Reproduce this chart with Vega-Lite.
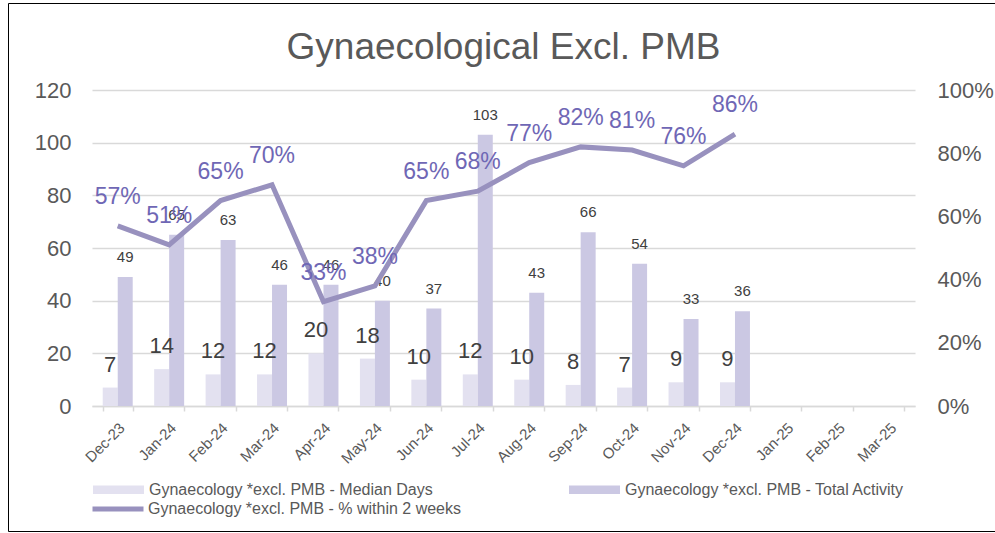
{
  "$schema": "https://vega.github.io/schema/vega-lite/v6.json",
  "width": 823,
  "height": 316,
  "autosize": "none",
  "padding": {"left": 92, "top": 90, "right": 80, "bottom": 127},
  "background": "white",
  "title": {
    "text": "Gynaecological Excl. PMB",
    "font": "Liberation Sans",
    "fontSize": 37,
    "fontWeight": "normal",
    "color": "#595959",
    "anchor": "middle",
    "baseline": "alphabetic",
    "offset": -93
  },
  "datasets": {
    "bars": [
      {"month": "Dec-23", "series": "Gynaecology *excl. PMB - Median Days", "value": 7},
      {"month": "Dec-23", "series": "Gynaecology *excl. PMB - Total Activity", "value": 49},
      {"month": "Jan-24", "series": "Gynaecology *excl. PMB - Median Days", "value": 14},
      {"month": "Jan-24", "series": "Gynaecology *excl. PMB - Total Activity", "value": 65},
      {"month": "Feb-24", "series": "Gynaecology *excl. PMB - Median Days", "value": 12},
      {"month": "Feb-24", "series": "Gynaecology *excl. PMB - Total Activity", "value": 63},
      {"month": "Mar-24", "series": "Gynaecology *excl. PMB - Median Days", "value": 12},
      {"month": "Mar-24", "series": "Gynaecology *excl. PMB - Total Activity", "value": 46},
      {"month": "Apr-24", "series": "Gynaecology *excl. PMB - Median Days", "value": 20},
      {"month": "Apr-24", "series": "Gynaecology *excl. PMB - Total Activity", "value": 46},
      {"month": "May-24", "series": "Gynaecology *excl. PMB - Median Days", "value": 18},
      {"month": "May-24", "series": "Gynaecology *excl. PMB - Total Activity", "value": 40},
      {"month": "Jun-24", "series": "Gynaecology *excl. PMB - Median Days", "value": 10},
      {"month": "Jun-24", "series": "Gynaecology *excl. PMB - Total Activity", "value": 37},
      {"month": "Jul-24", "series": "Gynaecology *excl. PMB - Median Days", "value": 12},
      {"month": "Jul-24", "series": "Gynaecology *excl. PMB - Total Activity", "value": 103},
      {"month": "Aug-24", "series": "Gynaecology *excl. PMB - Median Days", "value": 10},
      {"month": "Aug-24", "series": "Gynaecology *excl. PMB - Total Activity", "value": 43},
      {"month": "Sep-24", "series": "Gynaecology *excl. PMB - Median Days", "value": 8},
      {"month": "Sep-24", "series": "Gynaecology *excl. PMB - Total Activity", "value": 66},
      {"month": "Oct-24", "series": "Gynaecology *excl. PMB - Median Days", "value": 7},
      {"month": "Oct-24", "series": "Gynaecology *excl. PMB - Total Activity", "value": 54},
      {"month": "Nov-24", "series": "Gynaecology *excl. PMB - Median Days", "value": 9},
      {"month": "Nov-24", "series": "Gynaecology *excl. PMB - Total Activity", "value": 33},
      {"month": "Dec-24", "series": "Gynaecology *excl. PMB - Median Days", "value": 9},
      {"month": "Dec-24", "series": "Gynaecology *excl. PMB - Total Activity", "value": 36}
    ],
    "pct": [
      {"month": "Dec-23", "series": "Gynaecology *excl. PMB - % within 2 weeks", "pct": 0.57},
      {"month": "Jan-24", "series": "Gynaecology *excl. PMB - % within 2 weeks", "pct": 0.51},
      {"month": "Feb-24", "series": "Gynaecology *excl. PMB - % within 2 weeks", "pct": 0.65},
      {"month": "Mar-24", "series": "Gynaecology *excl. PMB - % within 2 weeks", "pct": 0.70},
      {"month": "Apr-24", "series": "Gynaecology *excl. PMB - % within 2 weeks", "pct": 0.33},
      {"month": "May-24", "series": "Gynaecology *excl. PMB - % within 2 weeks", "pct": 0.38},
      {"month": "Jun-24", "series": "Gynaecology *excl. PMB - % within 2 weeks", "pct": 0.65},
      {"month": "Jul-24", "series": "Gynaecology *excl. PMB - % within 2 weeks", "pct": 0.68},
      {"month": "Aug-24", "series": "Gynaecology *excl. PMB - % within 2 weeks", "pct": 0.77},
      {"month": "Sep-24", "series": "Gynaecology *excl. PMB - % within 2 weeks", "pct": 0.82},
      {"month": "Oct-24", "series": "Gynaecology *excl. PMB - % within 2 weeks", "pct": 0.81},
      {"month": "Nov-24", "series": "Gynaecology *excl. PMB - % within 2 weeks", "pct": 0.76},
      {"month": "Dec-24", "series": "Gynaecology *excl. PMB - % within 2 weeks", "pct": 0.86}
    ]
  },
  "encoding": {
    "x": {
      "field": "month",
      "type": "nominal",
      "scale": {
        "domain": ["Dec-23", "Jan-24", "Feb-24", "Mar-24", "Apr-24", "May-24", "Jun-24", "Jul-24", "Aug-24", "Sep-24", "Oct-24", "Nov-24", "Dec-24", "Jan-25", "Feb-25", "Mar-25"],
        "paddingInner": 0.417,
        "paddingOuter": 0.2085
      },
      "axis": {
        "title": null,
        "labelAngle": -45,
        "labelAlign": "right",
        "labelBaseline": "middle",
        "labelFont": "Liberation Sans",
        "labelFontSize": 15,
        "labelColor": "#595959",
        "labelPadding": 14,
        "labelOffset": 4,
        "domainColor": "#D9D9D9",
        "domainWidth": 1.5,
        "tickColor": "#D9D9D9",
        "tickWidth": 1.5,
        "tickSize": 5,
        "tickBand": "extent",
        "grid": false
      }
    }
  },
  "layer": [
    {
      "data": {"name": "bars"},
      "encoding": {
        "xOffset": {
          "field": "series",
          "type": "nominal",
          "scale": {"domain": ["Gynaecology *excl. PMB - Median Days", "Gynaecology *excl. PMB - Total Activity"], "paddingInner": 0, "paddingOuter": 0}
        },
        "y": {
          "field": "value",
          "type": "quantitative",
          "scale": {"domain": [0, 120], "nice": false},
          "axis": {
            "title": null,
            "orient": "left",
            "values": [0, 20, 40, 60, 80, 100, 120],
            "labelFont": "Liberation Sans",
            "labelFontSize": 22,
            "labelColor": "#595959",
            "labelPadding": 21,
            "ticks": false,
            "domain": false,
            "grid": true,
            "gridColor": "#D9D9D9",
            "gridWidth": 1.5
          }
        }
      },
      "layer": [
        {
          "mark": {"type": "bar"},
          "encoding": {
            "fill": {
              "field": "series",
              "type": "nominal",
              "scale": {
                "domain": ["Gynaecology *excl. PMB - Median Days", "Gynaecology *excl. PMB - Total Activity"],
                "range": ["#E3E1F0", "#CBC8E3"]
              },
              "legend": {
                "title": null,
                "orient": "none",
                "legendX": 1,
                "legendY": 374,
                "direction": "horizontal",
                "columns": 2,
                "columnPadding": 136,
                "padding": 0,
                "symbolType": "M-1,-0.17H1V0.17H-1Z",
                "symbolSize": 2601,
                "symbolStrokeWidth": 0,
                "labelFont": "Liberation Sans",
                "labelFontSize": 16,
                "labelColor": "#595959",
                "labelOffset": 5,
                "labelLimit": 400
              }
            }
          }
        },
        {
          "transform": [{"filter": "datum.series === 'Gynaecology *excl. PMB - Median Days'"}],
          "mark": {"type": "text", "font": "Liberation Sans", "fontSize": 22, "color": "#404040", "baseline": "alphabetic", "dy": -16},
          "encoding": {"text": {"field": "value", "type": "quantitative"}}
        },
        {
          "transform": [{"filter": "datum.series === 'Gynaecology *excl. PMB - Total Activity'"}],
          "mark": {"type": "text", "font": "Liberation Sans", "fontSize": 15, "color": "#404040", "baseline": "alphabetic", "dy": -15},
          "encoding": {"text": {"field": "value", "type": "quantitative"}}
        }
      ]
    },
    {
      "data": {"name": "pct"},
      "encoding": {
        "y": {
          "field": "pct",
          "type": "quantitative",
          "scale": {"domain": [0, 1], "nice": false},
          "axis": {
            "title": null,
            "orient": "right",
            "values": [0, 0.2, 0.4, 0.6, 0.8, 1],
            "format": ".0%",
            "labelFont": "Liberation Sans",
            "labelFontSize": 22,
            "labelColor": "#595959",
            "labelPadding": 22,
            "ticks": false,
            "domain": false,
            "grid": false
          }
        }
      },
      "layer": [
        {
          "mark": {"type": "line", "strokeWidth": 5, "strokeJoin": "miter", "strokeCap": "butt"},
          "encoding": {
            "stroke": {
              "field": "series",
              "type": "nominal",
              "scale": {"range": ["#9891BE"]},
              "legend": {
                "title": null,
                "orient": "none",
                "legendX": -2,
                "legendY": 391,
                "padding": 0,
                "symbolType": "stroke",
                "symbolSize": 2601,
                "symbolStrokeWidth": 5,
                "labelFont": "Liberation Sans",
                "labelFontSize": 16,
                "labelColor": "#595959",
                "labelOffset": 2,
                "labelLimit": 400
              }
            }
          }
        },
        {
          "mark": {"type": "text", "font": "Liberation Sans", "fontSize": 23, "baseline": "alphabetic", "dy": -22},
          "encoding": {
            "text": {"field": "pct", "type": "quantitative", "format": ".0%"},
            "color": {
              "field": "pct",
              "type": "quantitative",
              "scale": {"range": ["#6F67B5", "#6F67B5"]},
              "legend": {
                "title": null,
                "orient": "none",
                "legendX": -84,
                "legendY": -87,
                "direction": "horizontal",
                "gradientLength": 462,
                "gradientThickness": 0,
                "gradientStrokeWidth": 0,
                "labelFontSize": 0,
                "labelOpacity": 0,
                "labelOffset": 0,
                "padding": 264,
                "strokeColor": "#000000"
              }
            }
          }
        }
      ]
    }
  ],
  "resolve": {"scale": {"y": "independent"}, "axis": {"y": "independent"}},
  "config": {
    "view": {"stroke": null},
    "font": "Liberation Sans"
  }
}
